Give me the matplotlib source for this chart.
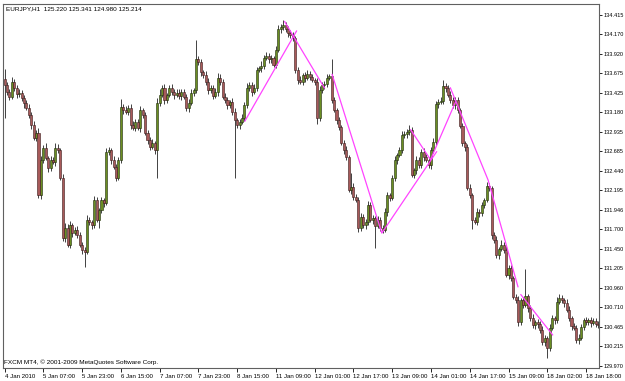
import matplotlib
matplotlib.use("Agg")
import matplotlib.pyplot as plt
import numpy as np

plt.rcParams["font.family"] = ["Liberation Sans", "DejaVu Sans"]

# EURJPY H1 closes
first_open = 133.60
closes = [
    133.53, 133.44, 133.38, 133.57, 133.49, 133.41, 133.43, 133.36, 133.30, 133.24,
    133.15, 133.02, 132.86, 132.92, 132.13, 132.58, 132.73, 132.60, 132.48, 132.58,
    132.55, 132.73, 132.70, 132.35, 131.59, 131.72, 131.50, 131.75, 131.65, 131.69,
    131.63, 131.50, 131.44, 131.41, 131.82, 131.79, 131.75, 132.07, 131.82, 131.94,
    132.07, 132.03, 132.68, 132.70, 132.58, 132.49, 132.35, 132.58, 133.25, 133.21,
    133.19, 133.24, 133.02, 132.98, 133.06, 132.98, 133.21, 133.15, 132.92, 132.83,
    132.74, 132.79, 132.70, 133.30, 133.40, 133.49, 133.34, 133.40, 133.49, 133.44,
    133.40, 133.43, 133.39, 133.44, 133.38, 133.24, 133.30, 133.43, 133.46, 133.85,
    133.82, 133.69, 133.65, 133.57, 133.46, 133.49, 133.39, 133.44, 133.62, 133.57,
    133.38, 133.34, 133.27, 133.31, 133.19, 133.08, 133.02, 133.06, 133.11, 133.27,
    133.49, 133.53, 133.44, 133.49, 133.72, 133.74, 133.77, 133.87, 133.90, 133.85,
    133.87, 133.78, 133.97, 134.23, 134.26, 134.29, 134.23, 134.19, 134.16, 134.12,
    133.72, 133.59, 133.57, 133.65, 133.62, 133.67, 133.63, 133.59, 133.57, 133.11,
    133.46, 133.53, 133.54, 133.62, 133.64, 133.34, 133.21, 133.08, 132.99, 132.79,
    132.70, 132.61, 132.20, 132.24, 132.11, 132.07, 131.72, 131.86, 131.75, 131.79,
    132.01, 131.82, 131.84, 131.74, 131.82, 131.72, 131.69, 131.92, 132.13, 132.10,
    132.35, 132.58, 132.64, 132.70, 132.89, 132.91, 132.93, 132.96, 132.39, 132.45,
    132.58, 132.51, 132.68, 132.61, 132.58, 132.51, 132.70, 132.81, 133.29, 133.31,
    133.32, 133.51, 133.49, 133.40, 133.34, 133.27, 133.34, 133.21, 133.01, 132.79,
    132.74, 132.22, 132.13, 131.82, 131.79, 131.92, 131.90, 132.01, 132.07, 132.25,
    132.22, 131.63, 131.56, 131.37, 131.45, 131.50, 131.44, 131.12, 131.21, 131.08,
    130.84, 130.80, 130.52, 130.80, 130.74, 130.85, 130.70, 130.57, 130.48, 130.52,
    130.50, 130.42, 130.27, 130.32, 130.19, 130.45, 130.57, 130.55, 130.78, 130.83,
    130.80, 130.76, 130.68, 130.57, 130.47, 130.45, 130.30, 130.32, 130.46, 130.55,
    130.52, 130.55, 130.51, 130.54, 130.50, 130.48,
]
# wick lengths beyond the body, in pips
up_pips = [
    13, 4, 3, 6, 3, 4, 5, 3, 4, 3, 4, 3, 5, 4, 6, 5, 4, 6, 3, 5,
    4, 6, 5, 3, 5, 6, 4, 5, 3, 4, 5, 3, 4, 3, 6, 4, 3, 5, 4, 3,
    4, 3, 5, 4, 3, 5, 4, 3, 10, 4, 5, 3, 4, 5, 3, 4, 5, 3, 4, 3,
    4, 5, 3, 6, 8, 4, 5, 3, 4, 5, 3, 4, 5, 3, 4, 3, 5, 4, 3, 25,
    5, 4, 3, 5, 4, 3, 4, 5, 6, 4, 3, 5, 4, 3, 5, 4, 3, 4, 5, 4,
    6, 4, 3, 5, 4, 3, 6, 4, 5, 3, 4, 3, 5, 6, 4, 6, 3, 4, 3, 4,
    3, 4, 5, 3, 4, 5, 3, 4, 3, 4, 5, 3, 4, 5, 3, 21, 4, 3, 4, 3,
    4, 5, 3, 17, 4, 3, 4, 5, 3, 4, 5, 3, 4, 3, 5, 4, 3, 5, 4, 3,
    4, 5, 3, 4, 5, 3, 4, 6, 4, 3, 5, 4, 3, 5, 4, 3, 4, 5, 3, 4,
    5, 8, 4, 3, 5, 4, 3, 4, 3, 4, 3, 4, 5, 3, 4, 5, 3, 4, 3, 5,
    4, 3, 4, 5, 3, 6, 4, 5, 3, 4, 3, 4, 5, 3, 4, 35, 3, 4, 5, 3,
    4, 3, 5, 4, 3, 5, 4, 3, 6, 5, 4, 3, 5, 4, 3, 4, 3, 5, 4, 3,
    4, 3, 4, 3, 4, 3,
]
dn_pips = [
    42, 4, 5, 3, 4, 5, 3, 4, 6, 3, 4, 5, 3, 4, 3, 5, 4, 3, 5, 4,
    3, 5, 4, 3, 4, 5, 3, 4, 5, 3, 4, 3, 5, 19, 3, 4, 5, 4, 3, 10,
    4, 5, 3, 4, 5, 3, 4, 3, 4, 5, 3, 4, 5, 3, 4, 3, 5, 4, 3, 5,
    4, 3, 5, 35, 4, 3, 5, 4, 3, 4, 5, 3, 4, 5, 3, 4, 5, 3, 4, 3,
    4, 5, 3, 4, 5, 3, 4, 3, 5, 4, 3, 4, 5, 3, 4, 73, 4, 5, 3, 4,
    3, 4, 5, 3, 4, 3, 5, 4, 3, 4, 5, 3, 4, 3, 5, 4, 3, 5, 4, 3,
    4, 5, 3, 4, 5, 3, 4, 3, 5, 8, 4, 3, 5, 4, 3, 4, 3, 5, 4, 3,
    5, 4, 3, 5, 4, 3, 5, 4, 3, 5, 4, 3, 5, 28, 3, 4, 4, 3, 5, 4,
    3, 4, 5, 3, 4, 3, 5, 4, 3, 4, 5, 3, 4, 5, 3, 4, 5, 3, 4, 5,
    3, 4, 5, 3, 4, 3, 5, 4, 3, 4, 5, 3, 4, 12, 3, 4, 5, 3, 4, 3,
    4, 5, 3, 4, 5, 3, 4, 3, 5, 4, 3, 4, 5, 3, 4, 3, 5, 4, 3, 4,
    5, 3, 4, 5, 12, 4, 3, 5, 4, 3, 4, 5, 3, 4, 5, 3, 4, 5, 3, 4,
    3, 4, 5, 3, 4, 3,
]

# zigzag segments (bar index, price)
zz_x = [[99.2, 120.5], [115.6, 132.0], [135.2, 155.7, 178.3],
        [167.6, 175.8, 186.1], [184.0, 199.6, 211.9], [213.1, 226.2]]
zz_y = [[133.07, 134.21], [134.33, 133.49], [133.66, 131.65, 132.68],
        [132.96, 132.58, 133.31], [133.49, 132.32, 130.97], [130.87, 130.36]]

x_labels = ["4 Jan 2010", "5 Jan 07:00", "5 Jan 23:00", "6 Jan 15:00", "7 Jan 07:00",
            "7 Jan 23:00", "8 Jan 15:00", "11 Jan 09:00", "12 Jan 01:00", "12 Jan 17:00",
            "13 Jan 09:00", "14 Jan 01:00", "14 Jan 17:00", "15 Jan 09:00",
            "18 Jan 02:00", "18 Jan 18:00"]
y_labels = ["134.415", "134.170", "133.920", "133.675", "133.425", "133.180", "132.935",
            "132.685", "132.440", "132.195", "131.946", "131.700", "131.450", "131.205",
            "130.960", "130.710", "130.465", "130.215", "129.970"]

closes = np.array(closes)
opens = np.concatenate([[first_open], closes[:-1]])
top = np.maximum(opens, closes)
bot = np.minimum(opens, closes)
highs = top + np.array(up_pips) * 0.01
lows = bot - np.array(dn_pips) * 0.01
idx = np.arange(len(closes))

fig = plt.figure(figsize=(6.25, 3.81), dpi=100)
ax = fig.add_axes([0.005, 0.034, 0.954, 0.956])

bull = closes >= opens
ax.vlines(idx, lows, highs, color="#222222", lw=0.6, zorder=2)
ax.bar(idx[bull], (top - bot)[bull], bottom=bot[bull], width=0.85,
       color="#6b8e23", edgecolor="#1e2a0a", lw=0.4, zorder=3)
ax.bar(idx[~bull], (top - bot)[~bull], bottom=bot[~bull], width=0.85,
       color="#a85a5a", edgecolor="#3a1a1a", lw=0.4, zorder=3)

for xs, ys in zip(zz_x, zz_y):
    ax.plot(xs, ys, color="#ff44ff", lw=0.9, zorder=4)

ax.set_xlim(-0.6, 245.5)
ax.set_ylim(129.94, 134.555)

ax.set_xticks(np.arange(0, 16 * len(x_labels), 16))
ax.set_xticklabels(x_labels, ha="left", fontsize=4.4)
ax.set_yticks([float(v) for v in y_labels])
ax.set_yticklabels(y_labels, fontsize=4.0)
ax.yaxis.tick_right()
ax.tick_params(axis="x", direction="out", length=3, pad=1, width=0.6)
ax.tick_params(axis="y", direction="out", length=2, pad=0.8, width=0.6)
for s in ax.spines.values():
    s.set_color("#606060")
    s.set_linewidth(0.8)

ax.text(0.004, 0.993, "EURJPY,H1  125.220 125.341 124.980 125.214",
        transform=ax.transAxes, fontsize=4.6, va="top", ha="left")
ax.text(0.002, 0.008, "FXCM MT4, \u00a9 2001-2009 MetaQuotes Software Corp.",
        transform=ax.transAxes, fontsize=4.6, va="bottom", ha="left")

fig.savefig("out.png", dpi=100)
